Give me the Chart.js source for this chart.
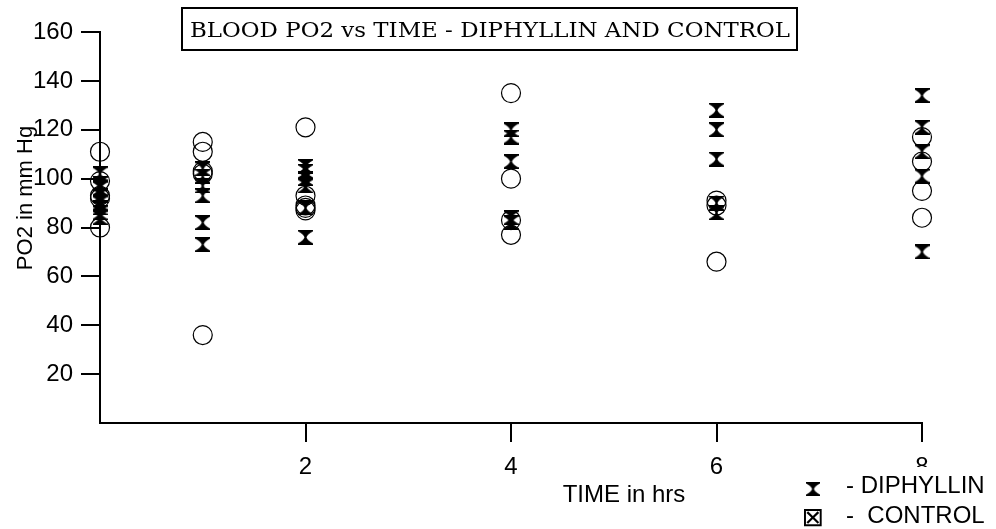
<!DOCTYPE html>
<html>
<head>
<meta charset="utf-8">
<script src="https://cdn.jsdelivr.net/npm/chart.js@4.4.1/dist/chart.umd.min.js"></script>
<style>
  html, body { margin: 0; background: #fff; }
  #wrap { position: relative; width: 996px; height: 529px; }
</style>
</head>
<body>
<div id="wrap"><canvas id="po2Chart" width="996" height="529"></canvas></div>
<script>
// sampling times (hrs) and the PO2 readings taken at each one
const timeHrs = [0, 1, 2, 4, 6, 8];
const diphyllinPO2 = [
  [102, 98, 96, 93, 90, 88, 86, 84],
  [104, 101, 97, 93, 82, 73],
  [105, 103, 100, 97, 88, 76],
  [120, 117, 107, 84, 82],
  [128, 120, 108, 90, 86],
  [134, 121, 111, 101, 70]
];
const controlPO2 = [
  [111, 99, 93, 92, 80],
  [115, 111, 103, 102, 36],
  [121, 93, 89, 88, 87],
  [135, 100, 83, 77],
  [91, 89, 66],
  [117, 107, 95, 84]
];
const xTicks = [2, 4, 6, 8];
const yTicks = [20, 40, 60, 80, 100, 120, 140, 160];

const sans = 'Liberation Sans';

function toPoints(groups) {
  return groups.flatMap((vals, i) => vals.map(v => ({ x: timeHrs[i], y: v })));
}

// filled hourglass marker
function hourglass(size) {
  const c = document.createElement('canvas');
  c.width = size; c.height = size;
  const g = c.getContext('2d');
  g.fillStyle = '#000';
  g.beginPath();
  g.moveTo(0, 0);
  g.lineTo(size, 0);
  g.lineTo(size, 1.5);
  g.quadraticCurveTo(size * 0.62, size * 0.3, size / 2 + 1, size / 2);
  g.quadraticCurveTo(size * 0.62, size * 0.7, size, size - 1.5);
  g.lineTo(size, size);
  g.lineTo(0, size);
  g.lineTo(0, size - 1.5);
  g.quadraticCurveTo(size * 0.38, size * 0.7, size / 2 - 1, size / 2);
  g.quadraticCurveTo(size * 0.38, size * 0.3, 0, 1.5);
  g.closePath();
  g.fill();
  return c;
}
const bowtie = hourglass(15);

const figureText = {
  id: 'figureText',
  afterDraw(chart) {
    const ctx = chart.ctx;
    ctx.save();

    // boxed title
    ctx.fillStyle = '#fff';
    ctx.fillRect(182, 8, 615, 42);
    ctx.strokeStyle = '#000';
    ctx.lineWidth = 2;
    ctx.strokeRect(182, 8, 615, 42);
    ctx.fillStyle = '#000';
    ctx.font = '20px "DejaVu Serif"';
    ctx.textAlign = 'left';
    ctx.textBaseline = 'alphabetic';
    const title = 'BLOOD PO2 vs TIME - DIPHYLLIN AND CONTROL';
    const w = ctx.measureText(title).width;
    ctx.save();
    ctx.translate(190, 37);
    ctx.scale(600 / w, 1);
    ctx.fillText(title, 0, 0);
    ctx.restore();

    // axis titles
    ctx.font = `22px "${sans}"`;
    ctx.save();
    ctx.translate(32, 198);
    ctx.rotate(-Math.PI / 2);
    ctx.textAlign = 'center';
    ctx.fillText('PO2 in mm Hg', 0, 0);
    ctx.restore();
    ctx.font = `24px "${sans}"`;
    ctx.textAlign = 'center';
    ctx.fillText('TIME in hrs', 624, 502);

    // legend
    ctx.fillStyle = '#fff';
    ctx.fillRect(800, 467, 196, 62);
    ctx.fillStyle = '#000';
    ctx.drawImage(bowtie, 806, 482, 14, 14);
    ctx.textAlign = 'left';
    ctx.fillText('- DIPHYLLIN', 846, 493);
    ctx.fillText('-  CONTROL', 846, 523);
    ctx.font = '27px "DejaVu Sans"';
    ctx.textAlign = 'center';
    ctx.fillText('\u22A0', 813, 526);
    ctx.restore();
  }
};

const axisStyle = {
  border: { color: '#000', width: 2 },
  grid: { drawOnChartArea: false, drawTicks: true, tickLength: 19, color: '#000', lineWidth: 2 }
};

new Chart(document.getElementById('po2Chart'), {
  type: 'scatter',
  data: {
    datasets: [
      {
        label: 'CONTROL',
        data: toPoints(controlPO2),
        pointStyle: 'circle',
        pointRadius: 9.5,
        pointBorderWidth: 1.2,
        pointBorderColor: '#000',
        pointBackgroundColor: 'rgba(0,0,0,0)',
        clip: false
      },
      {
        label: 'DIPHYLLIN',
        data: toPoints(diphyllinPO2),
        pointStyle: bowtie,
        pointRadius: 7.5,
        clip: false
      }
    ]
  },
  options: {
    responsive: false,
    animation: false,
    events: [],
    layout: { autoPadding: false, padding: { top: 32, right: 74, left: 0, bottom: 0 } },
    plugins: { legend: { display: false }, title: { display: false }, tooltip: { enabled: false } },
    scales: {
      x: {
        type: 'linear',
        min: 0,
        max: 8,
        afterBuildTicks: s => { s.ticks = xTicks.map(v => ({ value: v })); },
        afterFit: s => { s.height = 106; },
        ...axisStyle,
        ticks: { color: '#000', font: { family: sans, size: 24 }, padding: 11, maxRotation: 0 }
      },
      y: {
        min: 0,
        max: 160,
        afterBuildTicks: s => { s.ticks = yTicks.map(v => ({ value: v })); },
        afterFit: s => { s.width = 100; },
        ...axisStyle,
        ticks: { color: '#000', font: { family: sans, size: 24 }, padding: 8 }
      }
    }
  },
  plugins: [figureText]
});
</script>
</body>
</html>
